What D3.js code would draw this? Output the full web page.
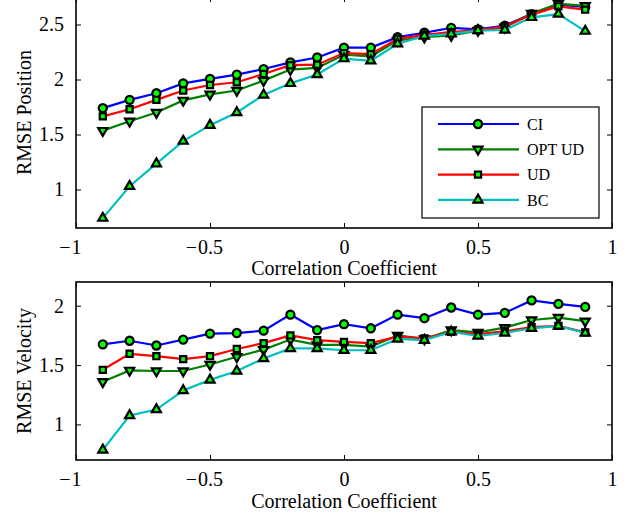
<!DOCTYPE html>
<html>
<head>
<meta charset="utf-8">
<script src="https://cdn.jsdelivr.net/npm/d3@7"></script>
<style>
  body { margin: 0; background: #fff; }
  text { font-family: "Liberation Serif", "Times New Roman", serif; fill: #000; }
</style>
</head>
<body>
<div id="d3-container"></div>
<script>
// correlation coefficients on the x axis
const corr = [-0.9, -0.8, -0.7, -0.6, -0.5, -0.4, -0.3, -0.2, -0.1, 0, 0.1, 0.2, 0.3, 0.4, 0.5, 0.6, 0.7, 0.8, 0.9];

const seriesNames = ["CI", "OPT UD", "UD", "BC"];

// RMSE position (top panel)
const posCI    = [1.74, 1.815, 1.875, 1.965, 2.005, 2.045, 2.095, 2.155, 2.2, 2.29, 2.29, 2.385, 2.425, 2.47, 2.455, 2.49, 2.595, 2.68, 2.66];
const posOPTUD = [1.535, 1.62, 1.7, 1.81, 1.865, 1.9, 1.99, 2.09, 2.105, 2.225, 2.21, 2.355, 2.385, 2.4, 2.445, 2.475, 2.6, 2.69, 2.67];
const posUD    = [1.665, 1.73, 1.815, 1.9, 1.95, 1.975, 2.05, 2.13, 2.135, 2.24, 2.23, 2.37, 2.405, 2.43, 2.45, 2.48, 2.59, 2.665, 2.635];
const posBC    = [0.74, 1.03, 1.235, 1.44, 1.585, 1.7, 1.86, 1.965, 2.045, 2.19, 2.17, 2.325, 2.395, 2.415, 2.445, 2.45, 2.565, 2.595, 2.44];

// RMSE velocity (bottom panel)
const velCI    = [1.675, 1.705, 1.665, 1.715, 1.765, 1.77, 1.79, 1.925, 1.795, 1.845, 1.81, 1.925, 1.895, 1.985, 1.925, 1.94, 2.045, 2.015, 1.99];
const velOPTUD = [1.36, 1.455, 1.45, 1.45, 1.505, 1.57, 1.63, 1.715, 1.67, 1.67, 1.655, 1.75, 1.72, 1.795, 1.775, 1.815, 1.88, 1.9, 1.87];
const velUD    = [1.46, 1.595, 1.575, 1.55, 1.575, 1.635, 1.685, 1.75, 1.71, 1.695, 1.685, 1.74, 1.725, 1.78, 1.76, 1.785, 1.82, 1.83, 1.775];
const velBC    = [0.785, 1.075, 1.125, 1.285, 1.375, 1.45, 1.555, 1.64, 1.64, 1.625, 1.625, 1.72, 1.71, 1.78, 1.745, 1.77, 1.81, 1.83, 1.77];

const xTicks = [-1, -0.5, 0, 0.5, 1];
const posTicks = [1, 1.5, 2, 2.5];
const velTicks = [1, 1.5, 2];

const colors = ["#0000ff", "#008000", "#ff0000", "#00bfbf"];
const shapes = ["circle", "down", "square", "up"];

const W = 641, H = 518;
const left = 76, right = 612;

const svg = d3.select("#d3-container")
    .append("svg")
    .attr("width", W)
    .attr("height", H);

const xScale = d3.scaleLinear().domain([-1, 1]).range([left, right]);

function marker(g, shape) {
    let sym;
    if (shape === "circle") sym = d3.symbol(d3.symbolCircle, 52);
    else if (shape === "square") sym = d3.symbol(d3.symbolSquare, 38);
    else sym = d3.symbol(d3.symbolTriangle, 36);
    g.append("path")
        .attr("d", sym())
        .attr("transform", shape === "down" ? "rotate(180)" : null)
        .attr("fill", "#00ff00")
        .attr("stroke", "#000")
        .attr("stroke-width", 2.2)
        .attr("stroke-linejoin", "miter");
}

function fmt(v) {
    return String(Math.abs(v));
}

function panel(top, bottom, yDomain, yTicks, series, ylabel, xlabelY, withLegend) {
    const yScale = d3.scaleLinear().domain(yDomain).range([bottom, top]);
    const g = svg.append("g");

    // series lines and markers
    series.forEach((vals, i) => {
        const line = d3.line()
            .x((d, j) => xScale(corr[j]))
            .y(d => yScale(d));
        g.append("path")
            .datum(vals)
            .attr("fill", "none")
            .attr("stroke", colors[i])
            .attr("stroke-width", 2.2)
            .attr("d", line);
        vals.forEach((v, j) => {
            const m = g.append("g")
                .attr("transform", "translate(" + xScale(corr[j]) + "," + yScale(v) + ")");
            marker(m, shapes[i]);
        });
    });

    // box with inward ticks on all four sides
    const tickLen = 5;
    g.append("g")
        .attr("transform", "translate(0," + bottom + ")")
        .call(d3.axisBottom(xScale).tickValues(xTicks).tickSize(-tickLen).tickFormat(fmt).tickPadding(12))
        .call(a => a.select(".domain").remove());
    g.append("g")
        .attr("transform", "translate(0," + top + ")")
        .call(d3.axisTop(xScale).tickValues(xTicks).tickSize(-tickLen).tickFormat(""))
        .call(a => a.select(".domain").remove());
    g.append("g")
        .attr("transform", "translate(" + left + ",0)")
        .call(d3.axisLeft(yScale).tickValues(yTicks).tickSize(-tickLen).tickFormat(d => String(d)).tickPadding(12))
        .call(a => a.select(".domain").remove());
    g.append("g")
        .attr("transform", "translate(" + right + ",0)")
        .call(d3.axisRight(yScale).tickValues(yTicks).tickSize(-tickLen).tickFormat(""))
        .call(a => a.select(".domain").remove());
    g.append("rect")
        .attr("x", left).attr("y", top)
        .attr("width", right - left).attr("height", bottom - top)
        .attr("fill", "none")
        .attr("stroke", "#000")
        .attr("stroke-width", 1.6);

    g.selectAll(".tick line").attr("stroke", "#000").attr("stroke-width", 1);
    g.selectAll(".tick text")
        .attr("font-size", 20)
        .attr("font-family", "Liberation Serif, serif");

    // minus signs hang left of the centred number, as in the original
    g.selectAll(".tick").each(function (d) {
        const t = d3.select(this).select("text");
        if (t.empty() || t.text() === "" || d >= 0) return;
        const w = t.node().getComputedTextLength();
        d3.select(this).append("text")
            .attr("x", -w / 2 - 1)
            .attr("y", t.attr("y"))
            .attr("dy", t.attr("dy"))
            .attr("text-anchor", "end")
            .attr("font-size", 20)
            .attr("fill", "#000")
            .text("\u2212");
    });

    g.append("text")
        .attr("x", (left + right) / 2)
        .attr("y", xlabelY)
        .attr("text-anchor", "middle")
        .attr("font-size", 20)
        .text("Correlation Coefficient");

    g.append("text")
        .attr("transform", "translate(31," + (top + bottom) / 2 + ") rotate(-90)")
        .attr("text-anchor", "middle")
        .attr("font-size", 20)
        .text(ylabel);

    if (withLegend) {
        const lg = g.append("g");
        lg.append("rect")
            .attr("x", 422).attr("y", 107)
            .attr("width", 177).attr("height", 111)
            .attr("fill", "#fff")
            .attr("stroke", "#000")
            .attr("stroke-width", 1.2);
        seriesNames.forEach((name, i) => {
            const yy = 124 + i * 25.3;
            lg.append("line")
                .attr("x1", 438).attr("x2", 519)
                .attr("y1", yy).attr("y2", yy)
                .attr("stroke", colors[i])
                .attr("stroke-width", 2.2);
            const m = lg.append("g").attr("transform", "translate(478," + yy + ")");
            marker(m, shapes[i]);
            lg.append("text")
                .attr("x", 527).attr("y", yy)
                .attr("dy", "0.35em")
                .attr("font-size", 16)
                .text(name);
        });
    }
}

panel(-3, 228, [0.65, 2.75], posTicks, [posCI, posOPTUD, posUD, posBC], "RMSE Position", 275, true);
panel(282, 460, [0.7, 2.2], velTicks, [velCI, velOPTUD, velUD, velBC], "RMSE Velocity", 508, false);
</script>
</body>
</html>
